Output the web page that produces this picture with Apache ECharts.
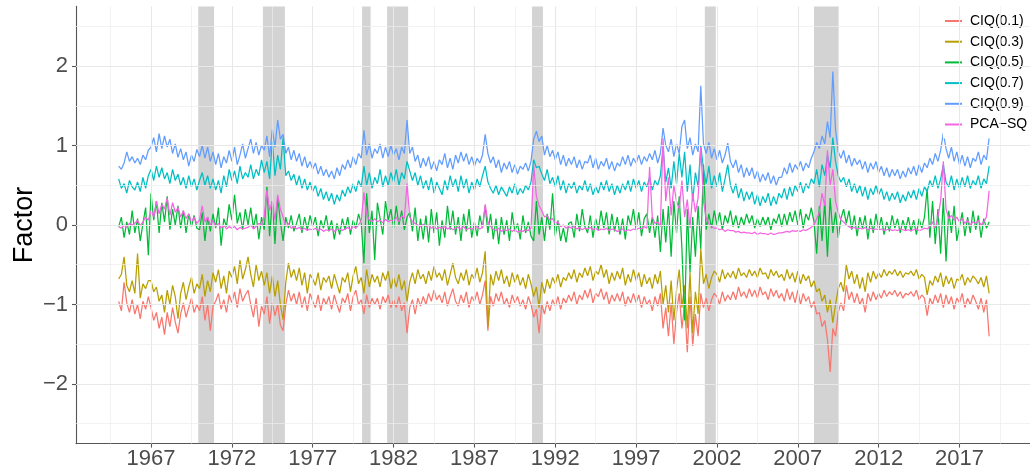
<!DOCTYPE html>
<html>
<head>
<meta charset="utf-8">
<script src="https://cdn.jsdelivr.net/npm/echarts@6/dist/echarts.min.js"></script>
<style>
html,body{margin:0;padding:0;background:#fff;}
#chart{width:1030px;height:469px;}
</style>
</head>
<body>
<div id="chart"></div>
<script>
// ---- data (bimonthly, starting Jan 1965) ----
const START_YEAR = 1965;
const STEP = 1 / 6;

const ciq01 = [
-0.96,-1.08,-0.72,-0.98,-1.10,-0.94,
-1.12,-1.00,-1.18,-0.96,-1.06,-0.90,
-1.04,-1.20,-1.10,-1.30,-1.16,-1.38,
-1.10,-1.28,-1.04,-1.22,-1.36,-1.12,
-0.98,-1.16,-1.04,-0.92,-1.10,-1.00,
-1.08,-0.90,-1.20,-1.00,-1.33,-1.02,
-0.96,-0.86,-1.06,-0.94,-1.10,-0.88,
-0.98,-0.84,-1.04,-0.80,-0.96,-0.88,
-0.82,-1.00,-1.16,-0.92,-1.28,-1.02,
-1.12,-0.90,-1.24,-0.98,-1.14,-1.00,
-1.26,-1.33,-1.00,-0.82,-0.96,-0.86,
-1.00,-0.84,-1.04,-0.90,-1.08,-0.86,
-0.96,-1.04,-0.88,-1.08,-0.92,-1.00,
-0.90,-1.06,-0.88,-1.00,-1.10,-0.92,
-0.98,-0.86,-1.08,-0.90,-0.82,-1.00,
-0.94,-1.12,-0.88,-1.04,-0.92,-1.00,
-0.92,-1.06,-0.90,-0.98,-0.88,-1.04,
-0.94,-1.04,-0.90,-1.08,-0.98,-1.36,
-1.04,-0.94,-1.12,-0.92,-1.02,-0.90,
-1.00,-0.86,-0.96,-0.82,-0.94,-0.88,
-0.98,-0.84,-1.02,-0.90,-0.80,-0.96,
-1.02,-0.88,-0.98,-0.84,-1.04,-0.90,
-0.96,-0.84,-1.00,-0.88,-0.70,-1.33,
-0.90,-1.02,-0.86,-0.96,-0.84,-1.00,
-0.92,-1.04,-0.88,-0.98,-0.90,-1.02,
-0.94,-1.06,-0.90,-1.00,-1.16,-1.06,
-1.36,-1.00,-1.12,-0.96,-1.08,-0.94,
-1.02,-0.90,-1.06,-0.92,-0.98,-0.88,
-0.96,-0.84,-1.00,-0.88,-0.94,-0.82,
-0.92,-0.80,-0.98,-0.86,-0.90,-0.80,
-0.94,-0.84,-1.00,-0.88,-0.96,-0.86,
-0.96,-0.84,-1.02,-0.90,-0.98,-0.86,
-0.98,-0.88,-1.04,-0.90,-1.00,-0.94,
-1.08,-0.90,-1.02,-0.86,-1.30,-1.04,
-1.40,-0.98,-1.50,-1.10,-0.86,-1.30,
-1.00,-1.60,-0.90,-1.52,-1.12,-1.40,
-0.86,-1.04,-0.92,-1.08,-0.94,-0.86,
-0.90,-1.00,-0.84,-0.96,-0.88,-0.94,
-0.84,-0.94,-0.78,-0.90,-0.84,-0.92,
-0.80,-0.90,-0.82,-0.92,-0.78,-0.88,
-0.84,-0.94,-0.80,-0.90,-0.82,-0.92,
-0.86,-0.96,-0.80,-0.94,-0.84,-0.98,
-0.82,-1.00,-0.86,-0.96,-0.90,-1.04,
-0.96,-1.12,-1.10,-1.28,-1.20,-1.44,
-1.85,-1.30,-1.40,-1.10,-0.98,-1.08,
-0.76,-0.94,-0.84,-0.98,-0.86,-1.00,
-0.92,-1.10,-0.86,-0.96,-0.84,-0.94,
-0.86,-0.92,-0.82,-0.90,-0.84,-0.88,
-0.82,-0.90,-0.84,-0.92,-0.86,-0.88,
-0.84,-0.90,-0.82,-0.94,-0.88,-0.92,
-1.14,-0.92,-1.00,-0.88,-0.98,-0.86,
-1.04,-0.88,-1.00,-0.90,-1.06,-0.92,
-0.98,-0.86,-1.04,-0.92,-1.00,-0.88,
-0.96,-1.06,-0.92,-1.10,-0.94,-1.40
];

const ciq03 = [
-0.68,-0.62,-0.40,-0.76,-0.84,-0.70,
-0.86,-0.36,-0.92,-0.74,-0.80,-0.70,
-0.70,-0.84,-0.78,-0.96,-0.88,-1.10,
-0.82,-1.00,-0.76,-0.90,-1.18,-0.86,
-0.72,-0.94,-0.78,-0.66,-0.86,-0.74,
-0.80,-0.62,-0.90,-0.70,-0.84,-0.60,
-0.72,-0.56,-0.80,-0.64,-0.86,-0.58,
-0.66,-0.52,-0.74,-0.44,-0.68,-0.56,
-0.40,-0.62,-0.78,-0.50,-0.70,-0.58,
-0.76,-0.60,-0.86,-0.64,-0.90,-0.70,
-1.00,-1.19,-0.72,-0.48,-0.66,-0.56,
-0.70,-0.54,-0.76,-0.60,-0.86,-0.62,
-0.68,-0.76,-0.60,-0.82,-0.66,-0.72,
-0.64,-0.80,-0.62,-0.74,-0.86,-0.66,
-0.72,-0.60,-0.84,-0.64,-0.52,-0.74,
-0.66,-0.86,-0.56,-0.78,-0.62,-0.72,
-0.64,-0.78,-0.60,-0.70,-0.58,-0.80,
-0.66,-0.78,-0.62,-0.82,-0.70,-0.96,
-0.72,-0.60,-0.74,-0.56,-0.68,-0.62,
-0.74,-0.58,-0.70,-0.52,-0.66,-0.60,
-0.70,-0.56,-0.76,-0.62,-0.48,-0.66,
-0.74,-0.60,-0.70,-0.56,-0.76,-0.62,
-0.68,-0.54,-0.72,-0.60,-0.33,-1.28,
-0.62,-0.76,-0.58,-0.70,-0.56,-0.74,
-0.64,-0.78,-0.60,-0.72,-0.62,-0.76,
-0.66,-0.80,-0.62,-0.74,-0.90,-0.78,
-1.04,-0.72,-0.86,-0.68,-0.80,-0.66,
-0.74,-0.62,-0.78,-0.66,-0.70,-0.60,
-0.68,-0.56,-0.72,-0.60,-0.66,-0.54,
-0.64,-0.52,-0.70,-0.58,-0.62,-0.50,
-0.66,-0.56,-0.74,-0.60,-0.70,-0.58,
-0.68,-0.54,-0.76,-0.62,-0.72,-0.56,
-0.70,-0.60,-0.78,-0.62,-0.74,-0.66,
-0.80,-0.62,-0.74,-0.58,-1.00,-0.76,
-1.10,-0.70,-1.20,-0.82,-0.56,-1.04,
-0.76,-1.30,-0.60,-1.36,-0.84,-1.12,
-0.30,-0.74,-0.62,-0.80,-0.66,-0.58,
-0.62,-0.72,-0.56,-0.68,-0.60,-0.66,
-0.58,-0.68,-0.54,-0.64,-0.60,-0.66,
-0.56,-0.64,-0.58,-0.66,-0.54,-0.62,
-0.60,-0.68,-0.56,-0.64,-0.58,-0.66,
-0.62,-0.70,-0.56,-0.68,-0.60,-0.72,
-0.58,-0.74,-0.62,-0.70,-0.64,-0.78,
-0.70,-0.84,-0.80,-0.96,-0.88,-1.10,
-0.94,-1.23,-1.00,-0.80,-0.72,-0.84,
-0.50,-0.68,-0.58,-0.74,-0.62,-0.80,
-0.66,-0.84,-0.60,-0.72,-0.58,-0.68,
-0.60,-0.66,-0.56,-0.64,-0.58,-0.62,
-0.56,-0.64,-0.58,-0.66,-0.60,-0.62,
-0.58,-0.64,-0.56,-0.68,-0.62,-0.66,
-0.88,-0.70,-0.76,-0.64,-0.72,-0.60,
-0.78,-0.64,-0.74,-0.66,-0.80,-0.68,
-0.70,-0.62,-0.76,-0.66,-0.72,-0.64,
-0.68,-0.74,-0.66,-0.78,-0.64,-0.86
];

const ciq05 = [
-0.02,0.10,-0.16,0.04,-0.12,0.18,
-0.10,0.08,-0.20,0.02,0.22,-0.38,
0.40,0.06,0.30,-0.10,0.28,0.04,
0.36,-0.06,0.20,0.00,0.24,-0.04,
0.18,-0.10,0.14,-0.02,0.12,-0.04,
-0.06,0.16,-0.20,0.10,-0.08,0.14,
-0.04,0.22,-0.26,0.08,-0.02,0.26,
0.06,0.38,0.02,0.16,-0.06,0.20,
0.00,0.22,-0.04,0.14,-0.18,0.10,
-0.06,0.48,-0.14,0.30,-0.24,0.36,
0.04,-0.20,0.10,-0.04,0.12,-0.08,
0.02,0.14,-0.10,0.10,-0.06,0.12,
-0.02,0.10,-0.14,0.06,-0.04,0.12,
-0.08,0.06,-0.18,0.02,-0.12,0.08,
-0.06,0.10,-0.12,0.06,-0.04,0.14,
0.02,-0.48,0.40,-0.10,0.18,-0.44,
0.28,0.08,-0.12,0.30,0.06,0.20,
-0.04,0.24,0.00,0.18,-0.06,0.10,
0.16,-0.08,0.22,-0.20,0.08,-0.18,
0.12,-0.22,0.20,-0.10,0.16,-0.26,
0.06,-0.16,0.24,-0.06,0.18,-0.12,
0.10,-0.20,0.14,-0.08,0.20,-0.16,
0.04,-0.14,0.12,-0.04,0.24,-0.10,
0.14,-0.18,0.08,-0.24,0.10,-0.12,
0.06,-0.20,0.16,-0.08,0.02,-0.18,
0.12,-0.10,0.04,-0.14,-0.20,0.30,
-0.12,0.10,-0.20,0.14,-0.06,0.40,
-0.14,0.06,-0.20,-0.04,-0.22,0.02,
0.04,-0.16,0.14,-0.08,0.20,-0.02,
-0.10,0.12,-0.16,0.08,-0.06,0.18,
-0.04,0.16,-0.12,0.14,-0.08,0.10,
-0.12,0.08,-0.18,0.12,0.00,0.20,
-0.06,0.16,-0.14,0.08,0.14,-0.10,
0.10,-0.16,0.12,-0.34,0.20,-0.22,
0.24,-0.40,0.30,-0.10,0.36,-0.30,
-1.20,0.20,-0.60,0.10,-0.40,0.24,
-0.30,0.76,-0.06,0.14,-0.04,0.18,
0.00,0.16,-0.06,0.12,0.02,0.18,
-0.02,0.12,-0.04,0.10,0.00,0.14,
0.02,0.12,-0.04,0.08,-0.02,0.10,
0.00,0.10,-0.06,0.08,0.02,0.14,
-0.02,0.14,0.00,0.16,0.04,0.18,
0.00,0.20,-0.04,0.14,0.06,0.22,
0.04,-0.36,0.24,-0.20,0.30,-0.40,
0.34,-0.10,0.16,-0.16,0.08,0.20,
0.02,0.18,-0.06,0.12,-0.14,0.10,
-0.04,0.12,-0.18,0.08,-0.10,0.14,
-0.06,0.10,-0.12,0.04,-0.08,0.12,
-0.04,0.08,-0.10,0.06,-0.06,0.10,
-0.08,0.06,-0.12,0.08,-0.04,0.10,
0.46,-0.16,0.30,-0.24,0.20,-0.36,
0.34,-0.46,0.18,-0.10,0.24,-0.20,
-0.02,0.16,-0.14,0.10,-0.10,0.18,
-0.06,0.12,-0.16,0.08,-0.04,0.04
];

const ciq07 = [
0.58,0.46,0.52,0.40,0.56,0.48,
0.44,0.54,0.42,0.60,0.46,0.62,
0.70,0.56,0.74,0.60,0.72,0.58,
0.66,0.52,0.70,0.56,0.64,0.50,
0.60,0.46,0.62,0.48,0.58,0.44,
0.56,0.66,0.50,0.62,0.46,0.58,
0.44,0.56,0.40,0.62,0.48,0.70,
0.56,0.68,0.52,0.74,0.58,0.66,
0.60,0.76,0.58,0.70,0.62,0.82,
0.66,0.80,0.58,1.05,0.62,0.88,
0.70,1.10,0.62,0.68,0.56,0.64,
0.50,0.62,0.46,0.58,0.44,0.54,
0.42,0.50,0.36,0.46,0.32,0.42,
0.30,0.40,0.26,0.38,0.30,0.44,
0.36,0.48,0.40,0.52,0.42,0.56,
0.48,0.74,0.50,0.66,0.46,0.60,
0.52,0.70,0.48,0.62,0.50,0.66,
0.54,0.70,0.50,0.66,0.58,0.80,
0.68,0.56,0.66,0.50,0.62,0.46,
0.56,0.44,0.60,0.40,0.54,0.46,
0.38,0.56,0.44,0.62,0.48,0.58,
0.42,0.62,0.46,0.58,0.40,0.54,
0.44,0.58,0.48,0.62,0.74,0.54,
0.46,0.40,0.50,0.38,0.48,0.42,
0.36,0.48,0.40,0.52,0.38,0.46,
0.40,0.50,0.44,0.54,0.82,0.72,
0.74,0.64,0.56,0.70,0.52,0.60,
0.48,0.62,0.44,0.56,0.40,0.52,
0.46,0.54,0.40,0.50,0.44,0.56,
0.42,0.52,0.38,0.48,0.40,0.54,
0.44,0.56,0.42,0.52,0.38,0.50,
0.40,0.52,0.44,0.56,0.42,0.58,
0.46,0.56,0.42,0.54,0.48,0.60,
0.44,0.56,0.50,0.62,0.98,0.54,
0.72,0.46,0.80,0.52,0.90,0.60,
0.92,0.42,0.76,0.30,0.66,0.48,
1.00,0.70,0.52,0.74,0.46,0.62,
0.48,0.66,0.42,0.58,0.76,0.50,
0.40,0.52,0.34,0.46,0.30,0.42,
0.32,0.42,0.26,0.38,0.24,0.36,
0.28,0.40,0.24,0.36,0.26,0.40,
0.34,0.46,0.32,0.48,0.36,0.50,
0.42,0.54,0.40,0.52,0.46,0.58,
0.52,0.70,0.48,0.76,0.62,0.88,
0.72,1.10,0.80,0.62,0.54,0.60,
0.48,0.58,0.42,0.52,0.40,0.50,
0.36,0.48,0.32,0.46,0.38,0.50,
0.38,0.46,0.32,0.42,0.30,0.40,
0.32,0.42,0.28,0.38,0.30,0.42,
0.34,0.44,0.32,0.46,0.36,0.48,
0.42,0.56,0.48,0.62,0.46,0.58,
0.76,0.54,0.48,0.62,0.44,0.58,
0.46,0.60,0.48,0.62,0.46,0.56,
0.50,0.62,0.46,0.58,0.52,0.74
];

const ciq09 = [
0.74,0.70,0.78,0.92,0.80,0.86,
0.78,0.84,0.76,0.88,0.82,0.94,
0.98,1.10,0.92,1.15,0.96,1.12,
0.98,1.08,0.90,1.02,0.85,0.96,
0.82,0.92,0.74,0.88,0.80,0.95,
0.86,1.00,0.84,0.98,0.80,0.92,
0.76,0.90,0.72,0.86,0.78,0.94,
0.80,0.98,0.76,0.88,1.02,0.84,
0.96,1.08,0.90,1.04,0.88,1.00,
0.94,1.12,0.86,1.20,0.98,1.32,
1.08,1.14,0.90,0.98,0.82,0.94,
0.80,0.90,0.74,0.86,0.72,0.80,
0.70,0.78,0.64,0.74,0.62,0.70,
0.60,0.68,0.58,0.72,0.62,0.76,
0.70,0.82,0.72,0.86,0.76,0.90,
0.84,1.19,0.88,1.02,0.84,0.96,
0.90,1.02,0.84,0.98,0.86,1.00,
0.88,0.96,0.82,0.98,0.90,1.32,
0.90,0.98,0.80,0.88,0.72,0.84,
0.74,0.86,0.70,0.80,0.68,0.82,
0.76,0.90,0.72,0.84,0.70,0.88,
0.78,0.92,0.80,0.90,0.76,0.86,
0.74,0.84,0.78,0.88,1.14,0.90,
0.78,0.86,0.72,0.82,0.66,0.78,
0.70,0.80,0.66,0.76,0.64,0.74,
0.70,0.78,0.68,0.80,1.08,1.18,
1.05,1.12,0.88,1.00,0.86,0.94,
0.82,0.92,0.76,0.88,0.74,0.84,
0.76,0.86,0.72,0.82,0.70,0.80,
0.78,0.88,0.72,0.84,0.70,0.80,
0.74,0.84,0.70,0.80,0.68,0.78,
0.74,0.86,0.76,0.88,0.74,0.84,
0.78,0.88,0.76,0.86,0.80,0.90,
0.82,0.94,0.78,0.90,1.22,1.00,
0.92,1.08,0.86,1.02,0.90,1.24,
1.32,0.96,1.10,0.88,1.02,0.92,
1.75,1.02,0.90,1.04,0.84,0.96,
0.82,0.94,0.78,0.88,1.03,0.80,
0.72,0.82,0.66,0.76,0.60,0.72,
0.62,0.72,0.58,0.68,0.54,0.64,
0.56,0.66,0.52,0.62,0.50,0.60,
0.60,0.72,0.64,0.78,0.66,0.76,
0.70,0.80,0.68,0.78,0.72,0.84,
0.92,1.04,0.96,1.12,1.02,1.30,
1.10,1.93,1.20,0.92,0.84,0.94,
0.78,0.88,0.74,0.84,0.76,0.82,
0.70,0.80,0.66,0.78,0.70,0.80,
0.66,0.74,0.62,0.72,0.60,0.70,
0.62,0.70,0.58,0.68,0.60,0.72,
0.64,0.74,0.62,0.76,0.66,0.78,
0.72,0.84,0.76,0.90,0.80,0.94,
1.16,0.96,0.84,0.98,0.80,0.92,
0.76,0.88,0.74,0.86,0.72,0.84,
0.80,0.92,0.76,0.88,0.82,1.10
];

const pcaSq = [
-0.02,-0.04,0.00,-0.03,0.02,0.00,
0.02,0.06,-0.01,0.04,0.10,0.06,
0.18,0.10,0.30,0.14,0.26,0.20,
0.34,0.12,0.28,0.16,0.22,0.10,
0.18,0.08,0.14,0.04,0.10,0.02,
0.06,0.24,0.04,0.10,0.00,0.06,
-0.02,0.02,-0.04,0.00,-0.05,-0.02,
-0.04,-0.02,-0.06,-0.03,-0.05,-0.04,
-0.03,0.00,-0.05,-0.02,0.02,0.00,
0.10,0.44,0.18,0.30,0.06,0.38,
0.20,0.10,-0.02,0.02,-0.04,-0.02,
-0.05,-0.03,-0.06,-0.04,-0.07,-0.05,
-0.06,-0.04,-0.07,-0.05,-0.08,-0.06,
-0.07,-0.05,-0.08,-0.06,-0.05,-0.07,
-0.05,-0.03,-0.06,-0.02,-0.04,0.00,
0.06,0.41,0.14,0.06,0.04,0.08,
0.04,0.06,0.03,0.07,0.04,0.06,
0.05,0.10,0.04,0.12,0.08,0.52,
0.10,0.04,0.02,0.00,-0.02,0.01,
-0.02,0.00,-0.04,-0.02,-0.05,-0.03,
-0.04,-0.02,-0.05,-0.03,-0.06,-0.04,
-0.03,-0.05,-0.02,-0.06,-0.04,-0.05,
-0.04,-0.02,-0.05,-0.03,0.26,0.04,
-0.02,-0.05,-0.07,-0.04,-0.08,-0.06,
-0.07,-0.05,-0.08,-0.06,-0.09,-0.07,
-0.08,-0.06,-0.07,-0.04,0.75,0.36,
0.24,0.18,0.10,0.12,0.06,0.08,
0.02,0.04,-0.02,0.00,-0.04,-0.02,
-0.04,-0.02,-0.05,-0.03,-0.06,-0.04,
-0.05,-0.03,-0.06,-0.04,-0.07,-0.05,
-0.06,-0.04,-0.07,-0.05,-0.06,-0.08,
-0.07,-0.05,-0.08,-0.06,-0.07,-0.05,
-0.06,-0.04,-0.05,-0.02,-0.04,0.73,
0.10,0.02,0.04,-0.02,1.09,0.30,
0.60,0.12,0.50,0.30,0.20,0.56,
0.10,0.32,-0.04,0.40,0.16,0.34,
0.98,0.30,0.08,0.02,-0.02,-0.04,
-0.04,-0.06,-0.05,-0.08,-0.06,-0.07,
-0.07,-0.09,-0.08,-0.10,-0.09,-0.10,
-0.10,-0.11,-0.09,-0.12,-0.10,-0.11,
-0.11,-0.12,-0.10,-0.12,-0.11,-0.10,
-0.10,-0.09,-0.08,-0.09,-0.07,-0.08,
-0.07,-0.08,-0.06,-0.07,-0.05,-0.03,
0.00,0.08,0.16,0.40,0.24,0.94,
0.50,0.70,0.30,0.16,0.06,0.04,
0.00,-0.02,-0.04,-0.03,-0.05,-0.04,
-0.05,-0.03,-0.06,-0.04,-0.06,-0.05,
-0.06,-0.05,-0.07,-0.06,-0.05,-0.07,
-0.06,-0.07,-0.05,-0.06,-0.07,-0.06,
-0.07,-0.06,-0.05,-0.07,-0.06,-0.04,
-0.05,-0.02,0.04,-0.04,0.10,0.30,
0.80,0.20,0.08,0.12,0.06,0.10,
0.04,0.08,0.02,0.06,0.00,0.04,
0.02,0.06,0.00,0.04,0.10,0.43
];

const seriesNames = ['CIQ(0.1)', 'CIQ(0.3)', 'CIQ(0.5)', 'CIQ(0.7)', 'CIQ(0.9)', 'PCA\u2212SQ'];
const seriesColors = ['#F8766D', '#B79F00', '#00BA38', '#00BFC4', '#619CFF', '#F564E3'];
const seriesValues = [ciq01, ciq03, ciq05, ciq07, ciq09, pcaSq];

// recession periods (start, end) in decimal years
const recessionStart = [1969.92, 1973.92, 1980.05, 1981.60, 1990.56, 2001.25, 2008.00];
const recessionEnd   = [1970.90, 1975.28, 1980.58, 1982.90, 1991.24, 2001.93, 2009.55];

// axis ticks / gridlines
const xTickYears = [1967, 1972, 1977, 1982, 1987, 1992, 1997, 2002, 2007, 2012, 2017];
const xMinorYears = [1964.5, 1969.5, 1974.5, 1979.5, 1984.5, 1989.5, 1994.5, 1999.5, 2004.5, 2009.5, 2014.5, 2019.5];
const yTicks = [-2, -1, 0, 1, 2];
const yMinor = [-2.5, -1.5, -0.5, 0.5, 1.5, 2.5];

// ---- chart ----
const chart = echarts.init(document.getElementById('chart'), null, {renderer: 'canvas'});
const FONT = '"Liberation Sans", Arial, Helvetica, sans-serif';

function pairs(vals) {
  return vals.map((v, i) => [START_YEAR + i * STEP, v]);
}
function minusFmt(v) {
  return v < 0 ? '\u2212' + Math.abs(v) : String(v);
}

const gridLines = [];
xMinorYears.forEach(x => gridLines.push({xAxis: x, lineStyle: {color: '#ededed', width: 0.7}}));
xTickYears.forEach(x => gridLines.push({xAxis: x, lineStyle: {color: '#e8e8e8', width: 1.1}}));
yMinor.forEach(y => gridLines.push({yAxis: y, lineStyle: {color: '#ededed', width: 0.7}}));
yTicks.forEach(y => gridLines.push({yAxis: y, lineStyle: {color: '#e8e8e8', width: 1.1}}));

const series = [];
series.push({
  name: '_grid', type: 'line', data: [], silent: true, z: 0,
  markLine: {silent: true, symbol: ['none', 'none'], label: {show: false}, animation: false,
    lineStyle: {type: 'solid'}, data: gridLines}
});
seriesValues.forEach((vals, k) => {
  series.push({
    name: seriesNames[k], type: 'line', data: pairs(vals), showSymbol: false, symbol: 'none',
    lineStyle: {color: seriesColors[k], width: 1.25}, itemStyle: {color: seriesColors[k]},
    z: 2, animation: false
  });
});
series.push({
  name: '_rec', type: 'line', data: [], silent: true, z: 5,
  markArea: {silent: true, itemStyle: {color: 'rgba(128,128,128,0.35)'},
    data: recessionStart.map((s, i) => [{xAxis: s}, {xAxis: recessionEnd[i]}])}
});

chart.setOption({
  animation: false,
  backgroundColor: '#ffffff',
  textStyle: {fontFamily: FONT},
  grid: {left: 76, right: 0, top: 6.4, bottom: 25.4, containLabel: false, outerBoundsMode: 'none'},
  legend: {
    data: seriesNames.map((n, k) => ({name: n, icon: 'rect', itemStyle: {color: seriesColors[k], borderWidth: 0}})),
    orient: 'vertical', left: 943, top: 7, itemWidth: 17, itemHeight: 2, itemGap: 4.7,
    backgroundColor: '#ffffff', padding: [6, 4, 6, 2],
    textStyle: {fontFamily: FONT, fontSize: 14, color: '#000', lineHeight: 16, padding: [0, 0, 0, 3]}
  },
  xAxis: {
    type: 'value', min: 1962.36, max: 2021.36,
    axisLine: {show: true, onZero: false, lineStyle: {color: '#555', width: 1.1}},
    axisTick: {show: true, length: 4, lineStyle: {color: '#555', width: 1.1}, customValues: xTickYears},
    axisLabel: {show: true, customValues: xTickYears, fontSize: 22, color: '#4d4d4d', margin: 4, fontFamily: FONT,
      formatter: v => String(v)},
    splitLine: {show: false}, minorSplitLine: {show: false}
  },
  yAxis: {
    type: 'value', min: -2.75, max: 2.75,
    name: 'Factor', nameLocation: 'middle', nameGap: 38, nameRotate: 90, nameMoveOverlap: false,
    nameTextStyle: {fontSize: 27, color: '#000', fontFamily: FONT},
    axisLine: {show: true, onZero: false, lineStyle: {color: '#555', width: 1.1}},
    axisTick: {show: true, length: 4, lineStyle: {color: '#555', width: 1.1}, customValues: yTicks},
    axisLabel: {show: true, customValues: yTicks, fontSize: 22, color: '#4d4d4d', margin: 8, fontFamily: FONT,
      formatter: minusFmt},
    splitLine: {show: false}
  },
  series: series
});
</script>
</body>
</html>
